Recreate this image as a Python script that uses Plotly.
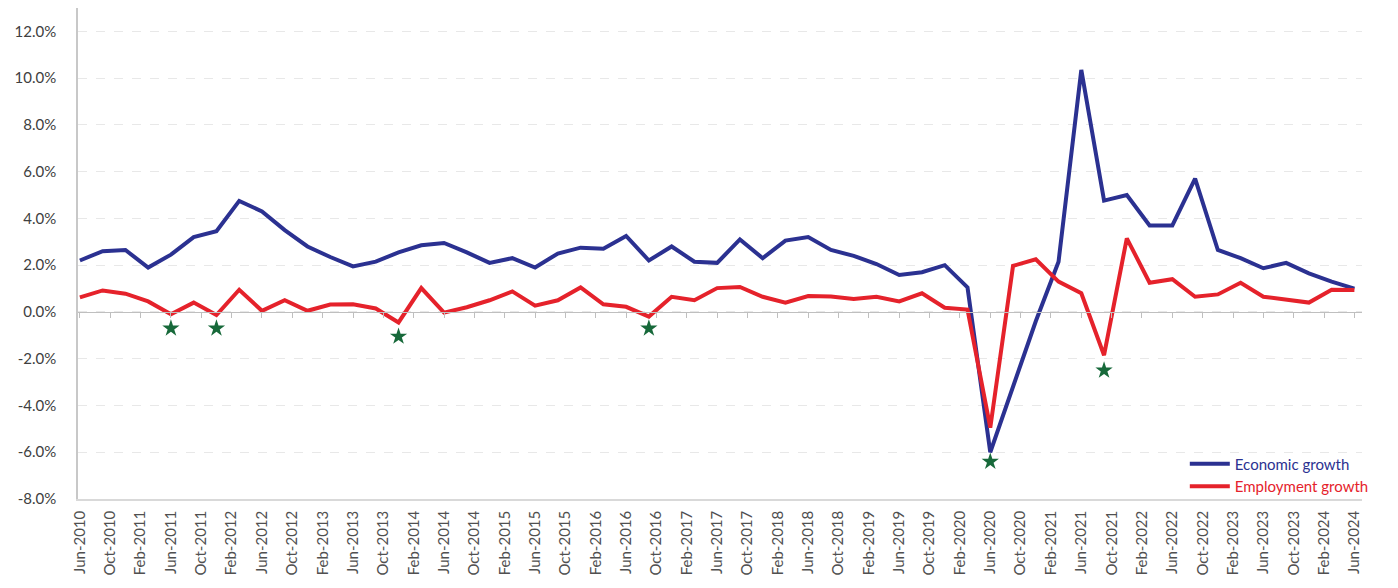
import pandas as pd
import plotly.graph_objects as go

quarters = [
    "Jun-2010", "Sep-2010", "Dec-2010", "Mar-2011", "Jun-2011", "Sep-2011", "Dec-2011", "Mar-2012",
    "Jun-2012", "Sep-2012", "Dec-2012", "Mar-2013", "Jun-2013", "Sep-2013", "Dec-2013", "Mar-2014",
    "Jun-2014", "Sep-2014", "Dec-2014", "Mar-2015", "Jun-2015", "Sep-2015", "Dec-2015", "Mar-2016",
    "Jun-2016", "Sep-2016", "Dec-2016", "Mar-2017", "Jun-2017", "Sep-2017", "Dec-2017", "Mar-2018",
    "Jun-2018", "Sep-2018", "Dec-2018", "Mar-2019", "Jun-2019", "Sep-2019", "Dec-2019", "Mar-2020",
    "Jun-2020", "Sep-2020", "Dec-2020", "Mar-2021", "Jun-2021", "Sep-2021", "Dec-2021", "Mar-2022",
    "Jun-2022", "Sep-2022", "Dec-2022", "Mar-2023", "Jun-2023", "Sep-2023", "Dec-2023", "Mar-2024",
    "Jun-2024",
]

economic_growth = [
    2.2, 2.6, 2.65, 1.9, 2.45, 3.2, 3.45, 4.75,
    4.3, 3.5, 2.8, 2.35, 1.95, 2.15, 2.55, 2.85,
    2.95, 2.55, 2.1, 2.3, 1.9, 2.5, 2.75, 2.7,
    3.25, 2.2, 2.8, 2.15, 2.1, 3.1, 2.3, 3.05,
    3.2, 2.65, 2.4, 2.05, 1.58, 1.7, 2.0, 1.05,
    -6.0, -3.2, -0.4, 2.15, 10.35, 4.76, 5.0, 3.7,
    3.7, 5.7, 2.65, 2.3, 1.87, 2.1, 1.65, 1.3,
    1.0,
]

employment_growth = [
    0.62, 0.92, 0.78, 0.45, -0.1, 0.4, -0.13, 0.95,
    0.05, 0.5, 0.05, 0.32, 0.33, 0.15, -0.45, 1.02,
    -0.03, 0.2, 0.5, 0.88, 0.27, 0.5, 1.05, 0.33,
    0.22, -0.2, 0.65, 0.5, 1.02, 1.07, 0.65, 0.4,
    0.68, 0.66, 0.55, 0.65, 0.45, 0.8, 0.18, 0.1,
    -4.95, 1.97, 2.25, 1.3, 0.8, -1.85, 3.15, 1.25,
    1.4, 0.65, 0.75, 1.25, 0.65, 0.52, 0.4, 0.95,
    0.94,
]

star_dates = ["Jun-2011", "Dec-2011", "Dec-2013", "Sep-2016", "Jun-2020", "Sep-2021"]
star_values = [-0.7, -0.7, -1.05, -0.7, -6.4, -2.5]

tick_labels = [
    "Jun-2010", "Oct-2010", "Feb-2011", "Jun-2011", "Oct-2011", "Feb-2012", "Jun-2012", "Oct-2012",
    "Feb-2013", "Jun-2013", "Oct-2013", "Feb-2014", "Jun-2014", "Oct-2014", "Feb-2015", "Jun-2015",
    "Oct-2015", "Feb-2016", "Jun-2016", "Oct-2016", "Feb-2017", "Jun-2017", "Oct-2017", "Feb-2018",
    "Jun-2018", "Oct-2018", "Feb-2019", "Jun-2019", "Oct-2019", "Feb-2020", "Jun-2020", "Oct-2020",
    "Feb-2021", "Jun-2021", "Oct-2021", "Feb-2022", "Jun-2022", "Oct-2022", "Feb-2023", "Jun-2023",
    "Oct-2023", "Feb-2024", "Jun-2024",
]

y_ticks = [-8, -6, -4, -2, 0, 2, 4, 6, 8, 10, 12]
y_tick_labels = ["-8.0%", "-6.0%", "-4.0%", "-2.0%", "0.0%", "2.0%", "4.0%", "6.0%", "8.0%", "10.0%", "12.0%"]

BASE = pd.Timestamp("2010-06-01")


def month_index(labels):
    d = pd.to_datetime(labels, format="%b-%Y")
    return [(t.year - BASE.year) * 12 + (t.month - BASE.month) for t in d]


xq = month_index(quarters)
xs = month_index(star_dates)
xt = month_index(tick_labels)

BLUE = "#2b3191"
RED = "#e5222b"
GREEN = "#17693a"

fig = go.Figure()
fig.add_trace(go.Scatter(
    x=xq, y=economic_growth, mode="lines",
    name="<span style='color:%s'>Economic growth</span>" % BLUE,
    line=dict(color=BLUE, width=4),
))
fig.add_trace(go.Scatter(
    x=xq, y=employment_growth, mode="lines",
    name="<span style='color:%s'>Employment growth</span>" % RED,
    line=dict(color=RED, width=4),
))
fig.add_trace(go.Scatter(
    x=xs, y=star_values, mode="markers", showlegend=False,
    marker=dict(symbol="star", size=13, color=GREEN, line=dict(width=0)),
))
# invisible trace on the overlay axis carrying the zero-line tick marks
fig.add_trace(go.Scatter(x=[xt[0]], y=[0], xaxis="x2", mode="markers",
                         marker=dict(opacity=0), showlegend=False, hoverinfo="skip"))

YMIN, YMAX = -8, 13
XR = [-0.25, 169.0]

fig.update_layout(
    width=1382, height=572,
    margin=dict(l=70, r=28, t=0, b=81),
    paper_bgcolor="white", plot_bgcolor="white",
    font=dict(family="Lato, 'Open Sans', sans-serif", color="#404040"),
    xaxis=dict(
        range=XR, tickmode="array", tickvals=xt, ticktext=tick_labels,
        tickangle=-90, tickfont=dict(size=15, color="#505050"),
        showgrid=False, zeroline=False, showline=True, linecolor="#d9d9d9", linewidth=1.5,
        ticks="", ticklabelstandoff=4, automargin=False,
    ),
    xaxis2=dict(
        range=XR, overlaying="x", anchor="free",
        position=(0 - YMIN) / (YMAX - YMIN),
        tickmode="array", tickvals=xt, showticklabels=False,
        ticks="outside", ticklen=5, tickcolor="#bfbfbf", tickwidth=1,
        showline=True, linecolor="#bfbfbf", linewidth=1.3,
        showgrid=False, zeroline=False, automargin=False,
    ),
    yaxis=dict(
        range=[YMIN, YMAX], tickmode="array", tickvals=y_ticks, ticktext=y_tick_labels,
        tickfont=dict(size=15, color="#404040"),
        showgrid=True, gridcolor="#e8e8e8", griddash="dash", gridwidth=1,
        zeroline=False, showline=True, linecolor="#c8c8c8", linewidth=1.5,
        ticks="", ticklabelstandoff=17, automargin=False,
    ),
    legend=dict(
        x=0.862, y=0.105, xanchor="left", yanchor="top",
        bgcolor="rgba(0,0,0,0)", font=dict(size=15), tracegroupgap=0,
        itemwidth=40,
    ),
    showlegend=True,
)

fig.write_html("out.html")
